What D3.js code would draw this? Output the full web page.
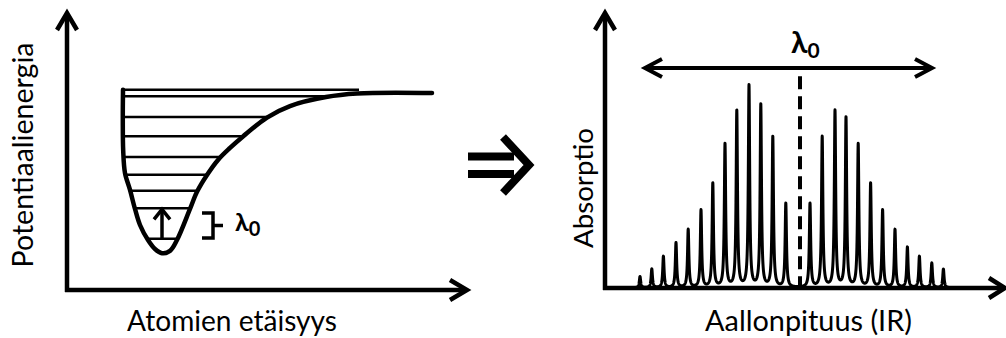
<!DOCTYPE html>
<html>
<head>
<meta charset="utf-8">
<script src="https://cdn.jsdelivr.net/npm/d3@7"></script>
<style>
  body { margin: 0; background: #fff; }
  svg { display: block; }
</style>
</head>
<body>
<svg id="chart" width="1006" height="338"></svg>
<script>
// ---------- data: potential well (left) ----------
const wellR = [1.40, 1.395, 1.405, 1.45, 1.575, 1.70, 1.825, 2.025, 2.2, 2.375, 2.575, 2.75, 3.075, 3.25, 3.5, 3.775, 4.075, 4.4, 5.0, 5.575, 6.475, 7.25, 9.125];
const wellE = [0.02, -0.17, -0.36, -0.50, -0.605, -0.724, -0.824, -0.918, -0.974, -1.0, -0.986, -0.918, -0.724, -0.617, -0.512, -0.418, -0.343, -0.271, -0.153, -0.081, -0.025, -0.003, 0];
const levelE = [0.02, -0.02, -0.15, -0.27, -0.40, -0.51, -0.61, -0.72, -0.91];
const levelEnd = [7.3, 9, 9, 9, 9, 9, 9, 9, 9];

// ---------- data: absorption spectrum (right) ----------
const peakPos = [8.75, 11.7, 14.6, 17.75, 20.8, 24.0, 26.95, 30.0, 32.95, 36.0, 38.95, 41.95, 45.2,
                 51.25, 54.3, 57.5, 60.25, 63.3, 66.4, 69.4, 72.5, 75.6, 78.6, 81.7, 84.6];
const peakHeight = [4.1, 6.8, 11.4, 16.3, 21.1, 28.1, 37.8, 52.0, 64.1, 73.2, 66.4, 54.7, 30.5,
                    30.5, 54.7, 64.1, 61.7, 52.0, 37.8, 28.1, 21.1, 14.7, 11.4, 9.0, 6.8];
const centerPos = 48.75;

const labels = {
  leftX: "Atomien etäisyys",
  leftY: "Potentiaalienergia",
  rightX: "Aallonpituus (IR)",
  rightY: "Absorptio"
};

const svg = d3.select("#chart");
const font = "Lato, 'Open Sans', sans-serif";

// ---------- helpers ----------
function arrowHead(g, tx, ty, dx, dy, len, half, sw) {
  // dx,dy = unit direction the arrow points
  const px = -dy, py = dx;
  const bx = tx - dx * len, by = ty - dy * len;
  g.append("path")
    .attr("d", `M${bx + px * half},${by + py * half}L${tx},${ty}L${bx - px * half},${by - py * half}`)
    .attr("fill", "none").attr("stroke", "#000").attr("stroke-width", sw)
    .attr("stroke-linejoin", "miter");
}

function fitText(sel, target) {
  const w = sel.node().getComputedTextLength();
  const fs = parseFloat(sel.attr("font-size"));
  sel.attr("font-size", fs * target / w);
}

// ---------- left panel ----------
const xL = d3.scaleLinear().domain([0, 10]).range([67, 467]);
const yL = d3.scaleLinear().domain([-1.23, 0.5]).range([290, 13]);
const gL = svg.append("g");

// axes
gL.append("path")
  .attr("d", `M${xL.range()[0]},${yL.range()[0] + 2}V${yL.range()[1] + 1}M${xL.range()[0] - 2},${yL.range()[0]}H${xL.range()[1] - 1}`)
  .attr("fill", "none").attr("stroke", "#000").attr("stroke-width", 4.5);
arrowHead(gL, xL.range()[0], yL.range()[1], 0, -1, 17, 10, 4.5);
arrowHead(gL, xL.range()[1], yL.range()[0], 1, 0, 17, 10, 4.5);

const wellPts = wellR.map((r, i) => [r, wellE[i]]);
const wellLine = d3.line().x(d => xL(d[0])).y(d => yL(d[1])).curve(d3.curveCatmullRom.alpha(0.5));

svg.append("defs").append("clipPath").attr("id", "wellClip")
  .append("path")
  .attr("d", wellLine(wellPts) + `L${xL(wellR[wellR.length - 1])},${yL(0.4)}L${xL(wellR[0])},${yL(0.4)}Z`);

// vibrational levels
gL.append("g").attr("clip-path", "url(#wellClip)")
  .selectAll("line").data(levelE).enter().append("line")
  .attr("x1", xL(1.0)).attr("x2", (d, i) => xL(levelEnd[i]))
  .attr("y1", d => yL(d)).attr("y2", d => yL(d))
  .attr("stroke", "#000").attr("stroke-width", 2.5);

// potential curve
gL.append("path").attr("d", wellLine(wellPts))
  .attr("fill", "none").attr("stroke", "#000").attr("stroke-width", 4.5)
  .attr("stroke-linecap", "round");

// transition arrow
const rMin = wellR[wellE.indexOf(d3.min(wellE))];
gL.append("line")
  .attr("x1", xL(rMin)).attr("x2", xL(rMin))
  .attr("y1", yL(levelE[8])).attr("y2", yL(levelE[7]) + 1)
  .attr("stroke", "#000").attr("stroke-width", 3.5);
arrowHead(gL, xL(rMin), yL(levelE[7]) + 1, 0, -1, 10, 8, 3.5);

// bracket
const brTop = -0.749, brBot = -0.905, brX0 = 3.375, brX1 = 3.65, brTick = 3.9;
gL.append("path")
  .attr("d", `M${xL(brX0)},${yL(brTop)}H${xL(brX1)}V${yL(brBot)}H${xL(brX0)}M${xL(brX1)},${yL((brTop + brBot) / 2)}H${xL(brTick)}`)
  .attr("fill", "none").attr("stroke", "#000").attr("stroke-width", 3.5);

const lamL = gL.append("text").attr("x", xL(4.2)).attr("y", yL(-0.86))
  .attr("font-family", font).attr("font-weight", "bold").attr("font-size", 25).attr("fill", "#000");
lamL.append("tspan").text("λ");
lamL.append("tspan").attr("font-size", 20).attr("dy", 5).text("0");

// labels
const lx = gL.append("text").attr("x", 232).attr("y", 331)
  .attr("text-anchor", "middle").attr("font-family", font).attr("font-size", 28).attr("fill", "#000")
  .text(labels.leftX);
fitText(lx, 210);
const ly = gL.append("text").attr("transform", "translate(33,155) rotate(-90)")
  .attr("text-anchor", "middle").attr("font-family", font).attr("font-size", 28).attr("fill", "#000")
  .text(labels.leftY);
fitText(ly, 225);

// ---------- middle arrow ----------
const mid = svg.append("g").attr("transform", "translate(468,165)");
mid.append("path").attr("d", "M0,-8.5H46M0,9H46")
  .attr("stroke", "#000").attr("stroke-width", 8);
mid.append("path").attr("d", "M35,-28L61,0L35,28")
  .attr("fill", "none").attr("stroke", "#000").attr("stroke-width", 8).attr("stroke-linejoin", "miter");

// ---------- right panel ----------
const xR = d3.scaleLinear().domain([0, 100]).range([605, 1005]);
const yR = d3.scaleLinear().domain([0, 100]).range([288, 13]);
const gR = svg.append("g");

// spectrum (Lorentzian line shapes around each read peak)
const gam = 0.2;
const xs = d3.range(5, 88, 0.02);
const spec = xs.map(x => [x, d3.sum(peakPos, (p, i) => peakHeight[i] * gam * gam / ((x - p) * (x - p) + gam * gam))]);
gR.append("path").datum(spec)
  .attr("d", d3.line().x(d => xR(d[0])).y(d => yR(d[1])))
  .attr("fill", "none").attr("stroke", "#000").attr("stroke-width", 3).attr("stroke-linejoin", "round");

// centre dashed line
gR.append("line")
  .attr("x1", xR(centerPos)).attr("x2", xR(centerPos))
  .attr("y1", yR(77)).attr("y2", yR(0))
  .attr("stroke", "#000").attr("stroke-width", 4).attr("stroke-dasharray", "13,7");

// axes
gR.append("path")
  .attr("d", `M${xR.range()[0]},${yR.range()[0] + 2}V${yR.range()[1] + 1}M${xR.range()[0] - 2},${yR.range()[0]}H${xR.range()[1] - 1}`)
  .attr("fill", "none").attr("stroke", "#000").attr("stroke-width", 4.5);
arrowHead(gR, xR.range()[0], yR.range()[1], 0, -1, 17, 10, 4.5);
arrowHead(gR, xR.range()[1], yR.range()[0], 1, 0, 16, 10, 4.5);

// double arrow with lambda_0
const spanL = 10, spanR = 81.75, spanY = 80;
gR.append("line").attr("x1", xR(spanL) + 1).attr("x2", xR(spanR) - 1)
  .attr("y1", yR(spanY)).attr("y2", yR(spanY))
  .attr("stroke", "#000").attr("stroke-width", 4);
arrowHead(gR, xR(spanL), yR(spanY), -1, 0, 17, 9, 4);
arrowHead(gR, xR(spanR), yR(spanY), 1, 0, 17, 9, 4);

const lamR = gR.append("text").attr("x", xR(centerPos) - 9).attr("y", yR(spanY) - 15)
  .attr("font-family", font).attr("font-weight", "bold").attr("font-size", 30).attr("fill", "#000");
lamR.append("tspan").text("λ");
lamR.append("tspan").attr("font-size", 21).attr("dy", 5).text("0");

const rx = gR.append("text").attr("x", 808.5).attr("y", 331)
  .attr("text-anchor", "middle").attr("font-family", font).attr("font-size", 28).attr("fill", "#000")
  .text(labels.rightX);
fitText(rx, 207);
const ry = gR.append("text").attr("transform", "translate(593,188) rotate(-90)")
  .attr("text-anchor", "middle").attr("font-family", font).attr("font-size", 28).attr("fill", "#000")
  .text(labels.rightY);
fitText(ry, 120);
</script>
</body>
</html>
